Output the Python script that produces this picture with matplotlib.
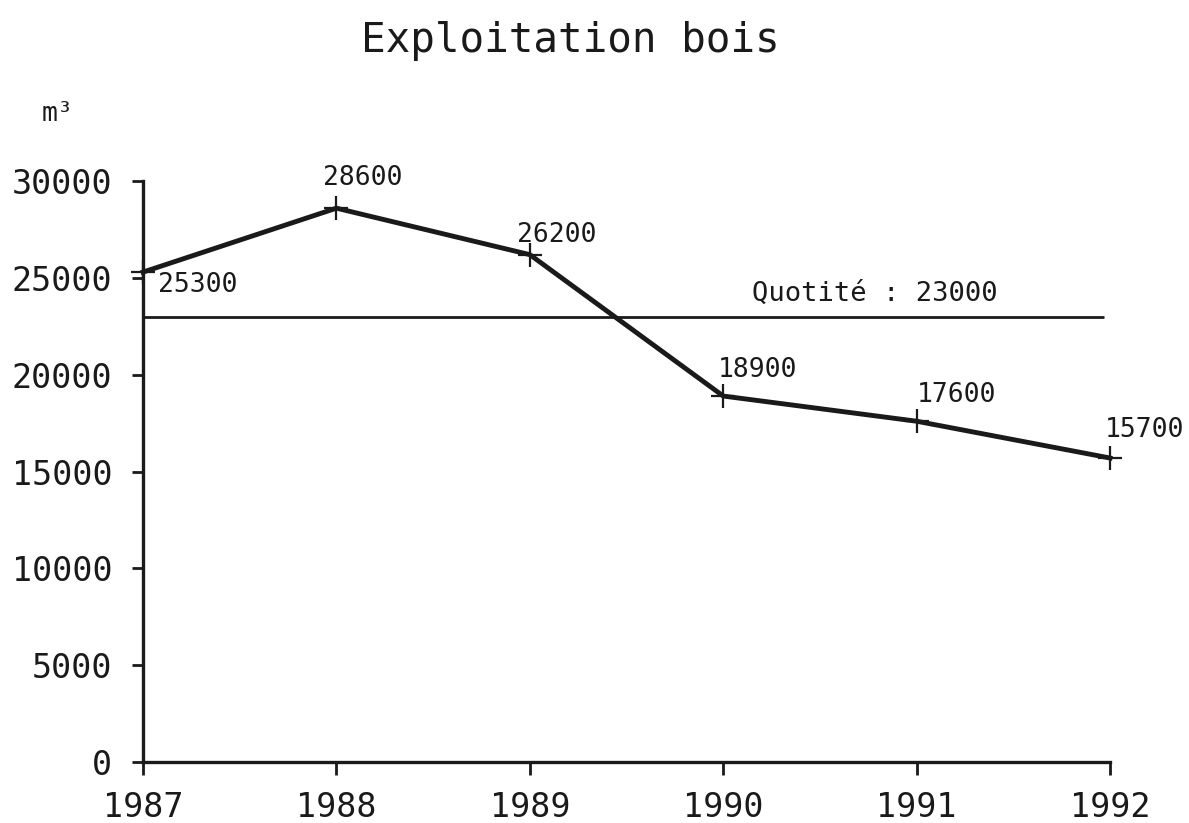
import matplotlib.pyplot as plt

years = [1987, 1988, 1989, 1990, 1991, 1992]
volume = [25300, 28600, 26200, 18900, 17600, 15700]
quotite = 23000
# label offsets in points (dx, dy) for each value
label_offsets = [(11, -9), (-10, 22), (-9, 14), (-4, 19), (0, 19), (-4, 20)]

plt.rcParams['font.family'] = ['DejaVu Sans Mono']

fig = plt.figure(figsize=(11.89, 8.23), dpi=100)
ax = fig.add_axes([0.1203, 0.074, 0.8133, 0.706])

ax.plot(years, volume, color='#1a1a1a', linewidth=3.5, marker='+', markersize=17,
        markeredgewidth=1.6, clip_on=False, zorder=3)
ax.hlines(quotite, years[0], 1991.97, color='#1a1a1a', linewidth=2)
ax.text(1990.15, quotite + 500, 'Quotité : 23000', fontsize=19.5, ha='left', va='bottom',
        color='#1a1a1a')

for x, y, (dx, dy) in zip(years, volume, label_offsets):
    ax.annotate(str(y), (x, y), xytext=(dx, dy), textcoords='offset points',
                fontsize=19, ha='left', va='center', color='#1a1a1a')

ax.set_xlim(1987, 1992)
ax.set_ylim(0, 30000)
ax.set_xticks(years)
ax.set_yticks(range(0, 30001, 5000))
ax.tick_params(axis='y', direction='out', length=8, width=2, labelsize=24, pad=14,
               colors='#1a1a1a')
ax.tick_params(axis='x', direction='out', length=9, width=2, labelsize=24, pad=12,
               colors='#1a1a1a')

for side in ['top', 'right']:
    ax.spines[side].set_visible(False)
for side in ['left', 'bottom']:
    ax.spines[side].set_linewidth(2.4)
    ax.spines[side].set_color('#1a1a1a')

fig.text(0.48, 0.95, 'Exploitation bois', fontsize=29.5, ha='center', va='center',
         color='#1a1a1a')
fig.text(0.035, 0.862, 'm³', fontsize=19, ha='left', va='center', color='#1a1a1a')

fig.savefig('out.png', dpi=100, facecolor='white')
